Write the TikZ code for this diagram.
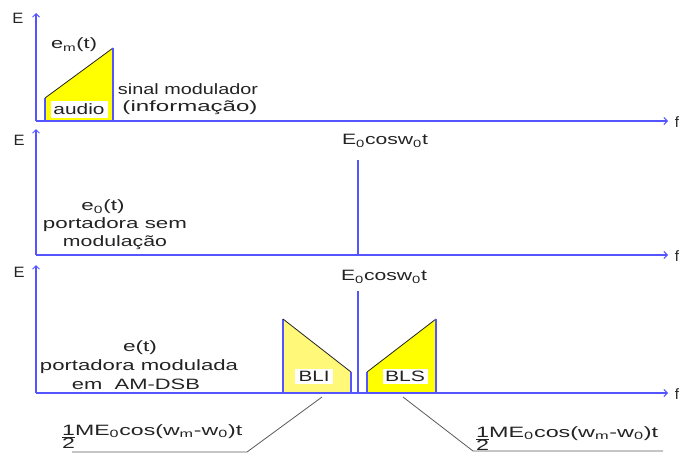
\documentclass[tikz,border=0pt]{standalone}
\usepackage{fontspec}
\setmainfont{Liberation Sans}
\usepackage{graphicx}
\usetikzlibrary{arrows.meta}

\definecolor{axisblue}{RGB}{85,85,255}
\definecolor{ink}{RGB}{35,35,35}
\definecolor{bandyellow}{RGB}{255,255,0}
\definecolor{paleyellow}{RGB}{255,248,120}
\definecolor{leadergray}{RGB}{90,90,90}

% stretch a text horizontally to a given width (in pt), keeping its height
\newcommand\stretchto[2]{\resizebox{#1pt}{\height}{#2}}
% stacked one-half used in the side-band amplitudes
\newcommand\halfstack{\begin{tabular}[t]{@{}c@{}}1\\[-2.5pt]\hline 2\end{tabular}}
\newcommand\sbamp{\halfstack ME\textsubscript{0}cos(w\textsubscript{m}-w\textsubscript{0})t}

\begin{document}
\begin{tikzpicture}[x=1pt,y=-1pt,
    font=\fontsize{15}{16}\selectfont,
    axis/.style={draw=axisblue, line width=1.9pt,
      -{Straight Barb[length=3.5pt,width=7pt,line width=1pt]}},
    edge/.style={draw=axisblue, line width=1.9pt},
    slope/.style={draw=ink, line width=0.8pt},
    leader/.style={draw=leadergray, line width=0.8pt},
    lbl/.style={text=ink, inner sep=0pt},
    tag/.style={fill=white, text=ink, inner sep=0pt}]
\useasboundingbox (0,0) rectangle (680,455);

% ---------- panel 1: modulating signal ----------
\coordinate (o1) at (36,121);
\coordinate (ytop1) at (36,13);
\coordinate (xend1) at (668,121);
\fill[bandyellow] (45,121) -- (45,98) -- (113,48) -- (113,121) -- cycle;
\draw[edge] (45,121) -- (45,98);
\draw[slope] (45,98) -- (113,48);
\draw[edge] (113,48) -- (113,121);
\draw[axis] (o1) -- (ytop1);
\draw[axis] (o1) -- (xend1);
\node[lbl] (E1) at (18,18) {\stretchto{11}{E}};
\node[lbl] (f1) at (677,122) {f};
\node[lbl] (em) at (74,45) {\stretchto{46}{e\textsubscript{m}(t)}};
\node[tag, minimum width=57pt, minimum height=17pt] (audio) at (79,109) {\stretchto{51}{audio}};
\node[lbl] (sinal) at (188,89) {\stretchto{140}{sinal modulador}};
\node[lbl] (info) at (190,108) {\stretchto{135}{(informação)}};

% ---------- panel 2: unmodulated carrier ----------
\coordinate (o2) at (36,255);
\coordinate (ytop2) at (36,129);
\coordinate (xend2) at (668,255);
\coordinate (c2base) at (358,255);
\coordinate (c2top) at (358,160);
\draw[edge] (c2base) -- (c2top);
\draw[axis] (o2) -- (ytop2);
\draw[axis] (o2) -- (xend2);
\node[lbl] (E2) at (19,140) {\stretchto{11}{E}};
\node[lbl] (f2) at (677,256) {f};
\node[lbl] (car2) at (385,141) {\stretchto{86}{E\textsubscript{0}cosw\textsubscript{0}t}};
\node[lbl] (e0) at (103,207) {\stretchto{43}{e\textsubscript{0}(t)}};
\node[lbl] (port2) at (115,225) {\stretchto{144}{portadora sem}};
\node[lbl] (mod2) at (115,243) {\stretchto{104}{modulação}};

% ---------- panel 3: AM-DSB spectrum ----------
\coordinate (o3) at (36,393);
\coordinate (ytop3) at (36,265);
\coordinate (xend3) at (668,393);
\coordinate (c3base) at (358,393);
\coordinate (c3top) at (358,291);
\fill[paleyellow] (283,393) -- (283,319) -- (351,372) -- (351,393) -- cycle;
\draw[edge] (283,393) -- (283,319);
\draw[slope] (283,319) -- (351,372);
\draw[edge] (351,372) -- (351,393);
\fill[bandyellow] (367,393) -- (367,372) -- (436,319) -- (436,393) -- cycle;
\draw[edge] (367,393) -- (367,372);
\draw[slope] (367,372) -- (436,319);
\draw[edge] (436,319) -- (436,393);
\draw[edge] (c3base) -- (c3top);
\draw[axis] (o3) -- (ytop3);
\draw[axis] (o3) -- (xend3);
\node[lbl] (E3) at (19,272) {\stretchto{11}{E}};
\node[lbl] (f3) at (677,394) {f};
\node[lbl] (car3) at (384,277) {\stretchto{86}{E\textsubscript{0}cosw\textsubscript{0}t}};
\node[lbl] (et) at (140,348) {\stretchto{34}{e(t)}};
\node[lbl] (port3) at (139,367) {\stretchto{198}{portadora modulada}};
\node[lbl] (am) at (136,384) {\stretchto{128}{em\ \ AM-DSB}};
\node[tag, minimum width=38pt, minimum height=15pt] (bli) at (314,376) {\stretchto{31}{BLI}};
\node[tag, minimum width=45pt, minimum height=15pt] (bls) at (405,376) {\stretchto{40}{BLS}};

% side-band amplitude labels with their leaders
\node[lbl, anchor=base west] (ampL) at (62,435) {\stretchto{180}{\sbamp}};
\node[lbl, anchor=base west] (ampR) at (476,437) {\stretchto{182}{\sbamp}};
\coordinate (bliFoot) at (322,397);
\coordinate (kneeL) at (247,452);
\coordinate (endL) at (72,452);
\coordinate (blsFoot) at (403,397);
\coordinate (kneeR) at (473,451);
\coordinate (endR) at (663,451);
\draw[leader] (bliFoot) -- (kneeL) -- (endL);
\draw[leader] (blsFoot) -- (kneeR) -- (endR);
\end{tikzpicture}
\end{document}
